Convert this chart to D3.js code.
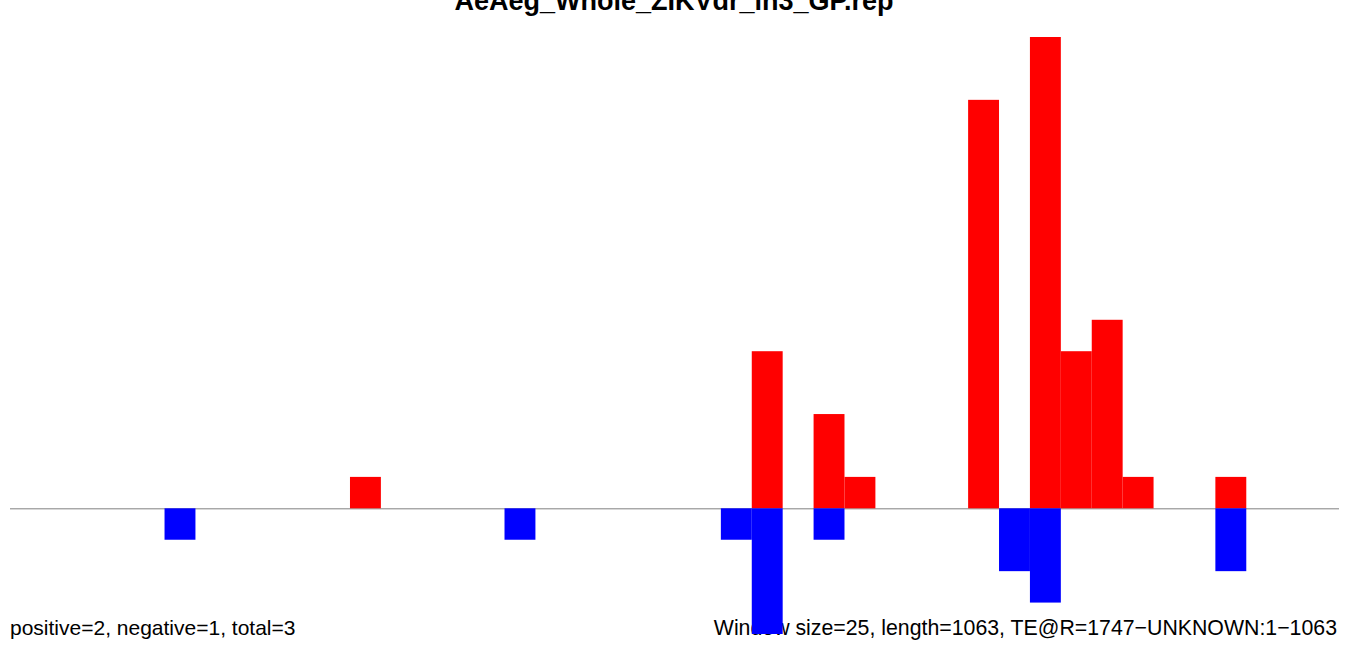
<!DOCTYPE html>
<html><head><meta charset="utf-8">
<script src="https://cdn.jsdelivr.net/npm/d3@7"></script>
<style>body{margin:0;background:#fff}svg{display:block}</style>
</head><body>
<script>
const title = "AeAeg_Whole_ZIKVdr_in3_GP.rep";
const leftNote = "positive=2, negative=1, total=3";
const rightNote = "Window size=25, length=1063, TE@R=1747\u2212UNKNOWN:1\u22121063";
const windowSize = 25;
const nBins = 43;
// bin index -> count
const posBins = [11, 24, 26, 27, 31, 33, 34, 35, 36, 39];
const posVals = [1, 5, 3, 1, 13, 15, 5, 6, 1, 1];
const negBins = [5, 16, 23, 24, 26, 32, 33, 39];
const negVals = [1, 1, 1, 4, 1, 2, 3, 2];

const W = 1350, H = 646;
const svg = d3.select("body").append("svg").attr("width", W).attr("height", H);
const x = d3.scaleLinear().domain([0, nBins * windowSize]).range([10, 1339]);
const y = d3.scaleLinear().domain([-4, 15]).range([634, 37]);

const pos = posBins.map((b, i) => ({b, v: posVals[i]}));
const neg = negBins.map((b, i) => ({b, v: negVals[i]}));

svg.append("text").attr("x", 674).attr("y", 10)
  .attr("text-anchor", "middle")
  .attr("font-family", "Liberation Sans, Arial, sans-serif")
  .attr("font-weight", "bold").attr("font-size", 27)
  .text(title);

svg.append("text").attr("x", 10).attr("y", 635)
  .attr("font-family", "Liberation Sans, Arial, sans-serif")
  .attr("font-size", 21).text(leftNote);

svg.append("text").attr("x", 1337).attr("y", 635)
  .attr("text-anchor", "end")
  .attr("font-family", "Liberation Sans, Arial, sans-serif")
  .attr("font-size", 21.3).text(rightNote);

svg.append("line")
  .attr("x1", 10).attr("x2", 1339)
  .attr("y1", y(0) + 0.5).attr("y2", y(0) + 0.5)
  .attr("stroke", "#808080").attr("stroke-width", 1);

svg.append("g").selectAll("rect").data(pos).join("rect")
  .attr("x", d => x(d.b * windowSize))
  .attr("width", d => x((d.b + 1) * windowSize) - x(d.b * windowSize))
  .attr("y", d => y(d.v))
  .attr("height", d => y(0) - y(d.v))
  .attr("fill", "#ff0000");

svg.append("g").selectAll("rect").data(neg).join("rect")
  .attr("x", d => x(d.b * windowSize))
  .attr("width", d => x((d.b + 1) * windowSize) - x(d.b * windowSize))
  .attr("y", y(0))
  .attr("height", d => y(-d.v) - y(0))
  .attr("fill", "#0000ff");
</script>
</body></html>
